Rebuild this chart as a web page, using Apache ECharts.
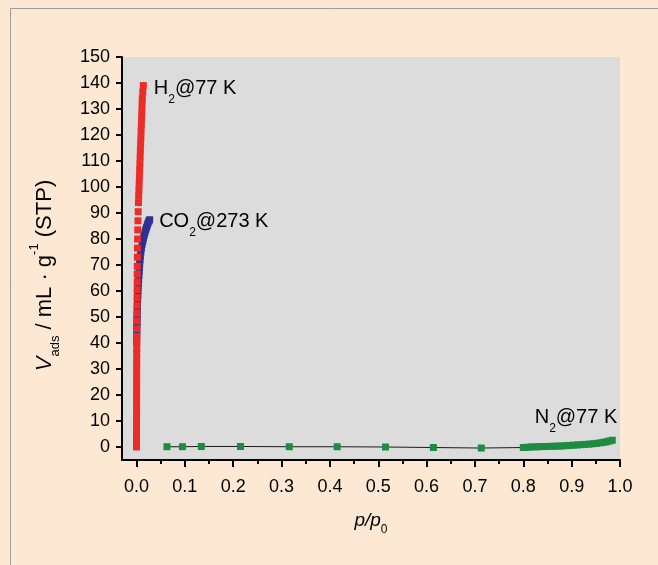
<!DOCTYPE html>
<html>
<head>
<meta charset="utf-8">
<script src="https://cdn.jsdelivr.net/npm/echarts@6/dist/echarts.min.js"></script>
<style>
  html, body { margin: 0; padding: 0; background: #fde8d3; }
  #chart { width: 658px; height: 565px; }
</style>
</head>
<body>
<div id="chart"></div>
<script>
// H2 isotherm at 77 K (relative pressure, uptake in mL/g STP)
const h2X = [0.00001, 0.00002, 0.00003, 0.00004, 0.00005, 0.00006, 0.00008, 0.0001, 0.00012, 0.00014,
             0.00016, 0.00019, 0.00022, 0.00025, 0.00028, 0.00032, 0.00036, 0.0004, 0.00045, 0.0005, 0.00055,
             0.0006, 0.0007, 0.0008, 0.0009, 0.001, 0.0011, 0.0012, 0.0013, 0.0014, 0.0016, 0.0018, 0.002,
             0.0023, 0.0026, 0.003, 0.0035, 0.004,
             0.0045, 0.005, 0.0055, 0.006, 0.0065, 0.007, 0.0075, 0.008, 0.0085, 0.009, 0.0095, 0.0100,
             0.0105, 0.011, 0.0115, 0.012, 0.013, 0.014];
const h2Y = [0, 2, 4, 6, 8, 10, 12, 14, 16, 18,
             20, 22, 24, 26, 28, 30, 32, 34, 36, 38, 40,
             42.5, 45.5, 48.5, 51.5, 54.5, 57.5, 60.5, 63.5, 66.5, 69.5, 73, 76.5,
             80, 83.5, 87, 90.5, 94,
             96.5, 99, 101.5, 104, 106.5, 109, 111.5, 114, 116.5, 119, 121.5, 124,
             126.5, 129, 131.5, 134, 136.5, 139];

// CO2 isotherm at 273 K
const co2X = [0.0002, 0.0003, 0.0005, 0.0006, 0.0008, 0.001, 0.0012, 0.0014, 0.0016, 0.0018,
              0.0021, 0.0024, 0.0027, 0.003, 0.0034, 0.0039, 0.0044, 0.0049, 0.0055, 0.006,
              0.0066, 0.0073, 0.008, 0.009, 0.0102, 0.0116, 0.013, 0.0145, 0.016, 0.0176,
              0.0192, 0.0208, 0.0224, 0.024, 0.0256, 0.0272];
const co2Y = [40.5, 42, 43.5, 45, 46.5, 48, 49.5, 51, 52.5, 54,
              55.5, 57, 58.5, 60, 61.5, 63, 64.5, 66, 67.5, 69,
              70.5, 72, 73.5, 75, 76.5, 78, 79.2, 80.4, 81.5, 82.6,
              83.6, 84.5, 85.4, 86.2, 86.9, 87.4];

// N2 isotherm at 77 K
const n2X = [0.063, 0.095, 0.134, 0.215, 0.316, 0.415, 0.515, 0.614, 0.713,
             0.800, 0.808, 0.816, 0.824, 0.832, 0.840, 0.848, 0.856, 0.864, 0.872,
             0.880, 0.888, 0.896, 0.904, 0.912, 0.920, 0.928, 0.936, 0.944, 0.952,
             0.960, 0.966, 0.972, 0.978, 0.984];
const n2Y = [0.1, 0.1, 0.2, 0.2, 0.1, 0.1, 0.0, -0.2, -0.4,
             -0.2, -0.1, 0, 0.05, 0.1, 0.15, 0.2, 0.25, 0.3, 0.35,
             0.4, 0.5, 0.6, 0.7, 0.8, 0.9, 1.0, 1.1, 1.25, 1.4,
             1.6, 1.8, 2.0, 2.3, 2.6];

// Axis ticks
const xMajorTicks = [0.0, 0.1, 0.2, 0.3, 0.4, 0.5, 0.6, 0.7, 0.8, 0.9, 1.0];
const xMinorTicks = [0.05, 0.15, 0.25, 0.35, 0.45, 0.55, 0.65, 0.75, 0.85, 0.95];
const yTicks = [0, 10, 20, 30, 40, 50, 60, 70, 80, 90, 100, 110, 120, 130, 140, 150];

const FONT = '"Liberation Sans", Arial, sans-serif';
const TEXT = '#000';

function pairs(xs, ys) {
  return xs.map((x, i) => [x, ys[i]]);
}

const annoRich = {
  sub: { fontFamily: FONT, fontSize: 12, lineHeight: 12, verticalAlign: 'bottom', color: TEXT }
};
const annoLabel = {
  show: true, fontFamily: FONT, fontSize: 20, color: TEXT, lineHeight: 34, rich: annoRich
};

function withLabel(data, label) {
  const last = data.length - 1;
  data[last] = { value: data[last], label: Object.assign({}, annoLabel, label) };
  return data;
}

const h2Data = withLabel(pairs(h2X, h2Y), {
  position: 'right', distance: 7, offset: [0, 3], formatter: 'H{sub|2}@77 K'
});
const co2Data = withLabel(pairs(co2X, co2Y), {
  position: 'right', distance: 6, offset: [0, 2], formatter: 'CO{sub|2}@273 K'
});
const n2Data = withLabel(pairs(n2X, n2Y), {
  position: 'top', distance: 2, align: 'right', offset: [5, 0], formatter: 'N{sub|2}@77 K'
});

const chart = echarts.init(document.getElementById('chart'), null, { renderer: 'canvas' });

const option = {
  backgroundColor: '#fde8d3',
  animation: false,
  graphic: [{
    type: 'rect', z: -10, silent: true,
    shape: { x: 10.5, y: 8.5, width: 700, height: 700 },
    style: { fill: 'none', stroke: '#9c9c9c', lineWidth: 1 }
  }],
  grid: {
    left: 122, right: 38, top: 57, bottom: 105,
    show: true, backgroundColor: '#dcdcdd', borderWidth: 0
  },
  xAxis: [{
    type: 'value', min: -0.03, max: 1.0,
    splitLine: { show: false },
    axisLine: { show: true, onZero: false, lineStyle: { color: '#000', width: 2 } },
    axisTick: { show: true, inside: false, length: 7, lineStyle: { color: '#000', width: 2 },
                customValues: xMajorTicks },
    axisLabel: { customValues: xMajorTicks, margin: 18, fontFamily: FONT, fontSize: 18, color: TEXT,
                 formatter: v => v.toFixed(1) },
    name: '{it|p/p}{sub|0}', nameLocation: 'middle', nameGap: 46,
    nameTextStyle: {
      fontFamily: FONT, fontSize: 19, color: TEXT, lineHeight: 30,
      rich: {
        it: { fontFamily: FONT, fontSize: 19, fontStyle: 'italic', color: TEXT },
        sub: { fontFamily: FONT, fontSize: 12, lineHeight: 12, verticalAlign: 'bottom', color: TEXT }
      }
    }
  }, {
    type: 'value', min: -0.03, max: 1.0, position: 'bottom',
    splitLine: { show: false },
    axisLine: { show: false, onZero: false },
    axisTick: { show: true, inside: false, length: 4, lineStyle: { color: '#000', width: 2 },
                customValues: xMinorTicks },
    axisLabel: { show: false }
  }],
  yAxis: {
    type: 'value', min: -5, max: 150,
    splitLine: { show: false },
    axisLine: { show: true, onZero: false, lineStyle: { color: '#000', width: 2 } },
    axisTick: { show: true, inside: false, length: 6, lineStyle: { color: '#000', width: 2 },
                customValues: yTicks },
    axisLabel: { customValues: yTicks, margin: 12, fontFamily: FONT, fontSize: 18, color: TEXT },
    name: '{it|V}{sub|ads} / mL · g{sup|-1} (STP)', nameLocation: 'middle', nameGap: 60,
    nameTextStyle: {
      fontFamily: FONT, fontSize: 22, color: TEXT, lineHeight: 34,
      padding: [0, 34, 0, 0],
      rich: {
        it: { fontFamily: FONT, fontSize: 22, fontStyle: 'italic', color: TEXT },
        sub: { fontFamily: FONT, fontSize: 13, lineHeight: 13, verticalAlign: 'bottom', color: TEXT },
        sup: { fontFamily: FONT, fontSize: 13, lineHeight: 13, verticalAlign: 'top', color: TEXT }
      }
    }
  },
  series: [{
    name: 'CO2@273 K', type: 'scatter', data: co2Data, z: 2,
    symbol: 'rect', symbolSize: 7,
    itemStyle: { color: '#2e3192', opacity: 1 }
  }, {
    name: 'H2@77 K', type: 'scatter', data: h2Data, z: 3,
    symbol: 'rect', symbolSize: 7,
    itemStyle: { color: '#ec2d27', opacity: 1 }
  }, {
    name: 'N2@77 K', type: 'line', data: n2Data, z: 3,
    symbol: 'rect', symbolSize: 7, showAllSymbol: true,
    lineStyle: { color: '#1a1a1a', width: 1 },
    itemStyle: { color: '#1e8c40', opacity: 1 }
  }]
};

chart.setOption(option);
</script>
</body>
</html>
